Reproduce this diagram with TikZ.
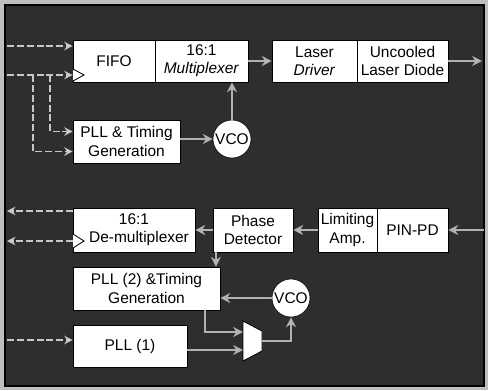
\documentclass[tikz,border=0pt]{standalone}
\usepackage{fontspec}
\setmainfont{Liberation Sans}
\usetikzlibrary{arrows.meta,positioning,calc}

\tikzset{
  blk/.style={draw=black,fill=white,inner sep=1pt,align=center,
    font=\fontsize{11}{13}\selectfont},
  vco/.style={circle,draw=black,fill=white,minimum size=0.95cm,inner sep=0pt,
    font=\fontsize{11}{13}\selectfont},
  sig/.style={draw=gray!60,line width=1.4pt,
    -{Stealth[length=7pt,width=7pt,fill=white]}},
  ext/.style={draw=gray!45,line width=0.9pt,dash pattern=on 5pt off 2pt,
    -{Stealth[length=6pt,width=6pt,fill=white]}},
  clk/.style={draw=black,fill=white,line width=0.6pt}
}

\begin{document}
\begin{tikzpicture}[x=0.025cm,y=-0.025cm]
\fill[gray!50] (0,0) rectangle (488,390);
\filldraw[fill=black!82,draw=black,line width=1pt] (5,5) rectangle (484,386);

% transmitter
\node[blk,minimum width=2.05cm,minimum height=1.05cm] (fifo) at (114,61) {FIFO};
\node[blk,minimum width=2.325cm,minimum height=1.05cm] (mux) at (201.5,61) {16:1\\\textit{Multiplexer}};
\node[blk,minimum width=2.125cm,minimum height=1.05cm] (ldrv) at (314.5,61) {Laser\\\textit{Driver}};
\node[blk,minimum width=2.275cm,minimum height=1.05cm] (ldio) at (402.5,61) {Uncooled\\Laser Diode};
\node[blk,minimum width=2.675cm,minimum height=1.075cm] (pllt) at (126.5,141.5) {PLL \& Timing\\Generation};
\node[vco] (vcot) at (232,139) {VCO};
\draw[clk] (73,69) -- (84,75) -- (73,81);

\coordinate (txout) at (482,61);
\coordinate (din) at (7,46);
\coordinate (cin) at (7,75);
\coordinate (cb1) at (33,75);
\coordinate (cb2) at (50,75);

\draw[sig] (mux.east) -- (ldrv.west);
\draw[sig] (ldio.east) -- (txout);
\draw[sig] (vcot.north) -- (vcot.north |- mux.south);
\draw[sig] (pllt.east |- vcot.west) -- (vcot.west);
\draw[ext] (din) -- (din -| fifo.west);
\draw[ext] (cin) -- (cin -| fifo.west);
\draw[ext] (cb1) |- ([yshift=-0.25cm]pllt.west);
\draw[ext] (cb2) |- ([yshift=0.25cm]pllt.west);

% receiver
\node[blk,minimum width=3.05cm,minimum height=1.1cm] (demux) at (134,230) {16:1\\\hspace*{0.25cm}De-multiplexer};
\node[blk,minimum width=2cm,minimum height=1.1cm] (pdet) at (253,230) {Phase\\Detector};
\node[blk,minimum width=1.475cm,minimum height=1.1cm] (lamp) at (347.5,230) {Limiting\\Amp.};
\node[blk,minimum width=1.775cm,minimum height=1.1cm] (pin) at (412.5,230) {PIN-PD};
\node[blk,minimum width=3.675cm,minimum height=1.075cm] (pllb) at (146.5,288.5) {PLL (2) \&Timing\\Generation};
\node[blk,minimum width=2.85cm,minimum height=1.05cm] (pllr) at (130,346) {PLL (1)};
\node[vco] (vcob) at (291,298) {VCO};
\draw[clk] (73,234) -- (84,241) -- (73,248);
\filldraw[clk] (243,321) coordinate (selnw) -- (262,331) -- (262,351) -- (243,361) -- cycle;

\coordinate (rxin) at (484,230);
\coordinate (dout) at (7,211);
\coordinate (cout) at (7,241);
\coordinate (refin) at (7,340);
\coordinate (selin2) at (243,332);
\coordinate (selin1) at (243,350);
\coordinate (selout) at (262,341);

\draw[sig] (rxin) -- (pin.east);
\draw[sig] (lamp.west) -- (pdet.east);
\draw[sig] (pdet.west) -- (demux.east);
\draw[sig] ([xshift=0.08cm]pdet.south west) -- ([xshift=0.08cm]pdet.south west |- pllb.north);
\draw[sig] (vcob.west) -- (vcob.west -| pllb.east);
\draw[sig] ([xshift=-0.375cm]pllb.south east) |- (selin2);
\draw[sig] (pllr.east |- selin1) -- (selin1);
\draw[sig] (selout) -| (vcob.south);
\draw[ext] (demux.west |- dout) -- (dout);
\draw[ext] (demux.west |- cout) -- (cout);
\draw[ext] (refin) -- (refin -| pllr.west);
\end{tikzpicture}
\end{document}
